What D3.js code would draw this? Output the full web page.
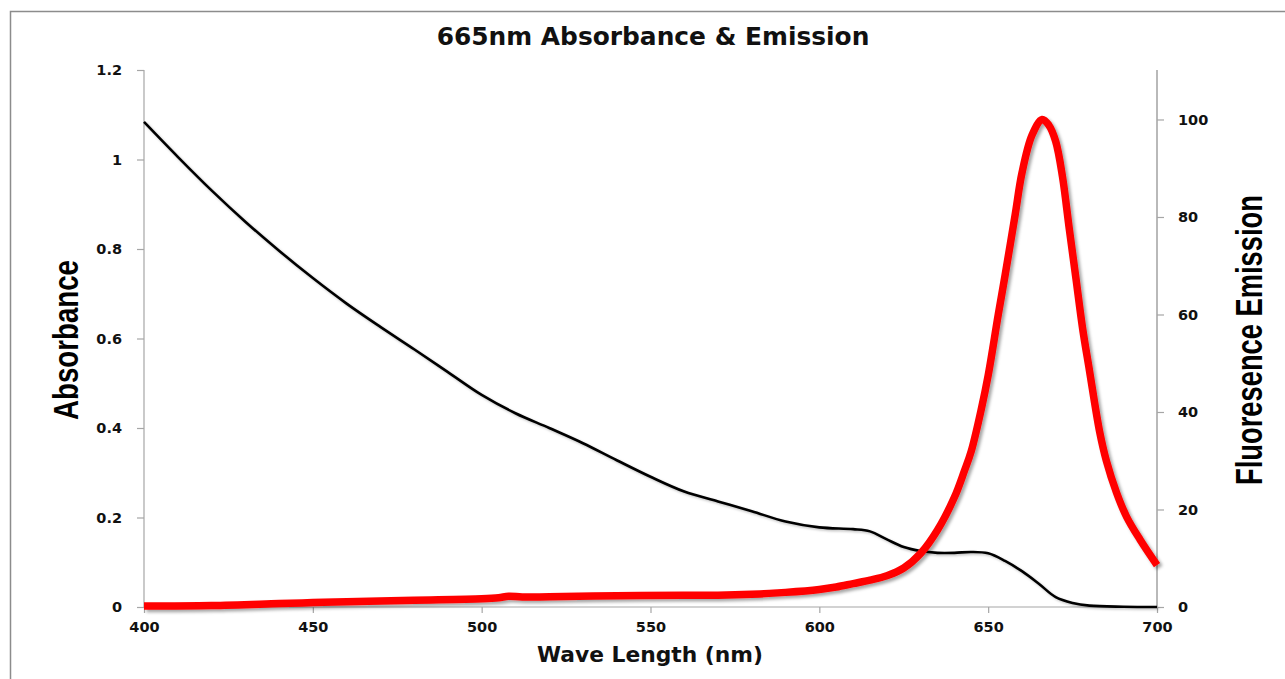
<!DOCTYPE html>
<html>
<head>
<meta charset="utf-8">
<script src="https://cdn.jsdelivr.net/npm/d3@7/dist/d3.min.js"></script>
<style>
  html, body { margin: 0; padding: 0; background: #fff; }
  svg { display: block; }
</style>
</head>
<body>
<svg id="chart" width="1285" height="679"></svg>
<script>
// ---- Data ----
const absWavelengths = [400,410,420,430,440,450,460,470,480,490,500,510,520,530,540,550,560,570,580,590,600,610,615,620,625,630,635,640,645,650,655,660,665,670,675,680,690,700];
const absValues      = [1.084,1.006,0.931,0.861,0.796,0.735,0.678,0.626,0.576,0.525,0.474,0.433,0.400,0.366,0.328,0.291,0.258,0.236,0.214,0.191,0.178,0.174,0.169,0.151,0.134,0.125,0.121,0.121,0.123,0.120,0.103,0.080,0.052,0.022,0.009,0.003,0.0005,0];

const emWavelengths = [400,420,440,450,460,480,500,505,508,512,520,540,560,570,580,590,600,605,610,615,620,625,630,635,640,643,645,648,650,653,655,658,660,663,666,668,670,672,674,676,678,680,683,685,688,691,695,700];
const emValues      = [0.2,0.3,0.7,0.9,1.1,1.4,1.7,1.9,2.2,2.05,2.1,2.3,2.4,2.4,2.6,3.0,3.6,4.1,4.8,5.5,6.4,8.0,11.0,15.8,22.5,28,32,40.7,47.5,60,68,80.5,89,96.8,100,98.8,95.5,88.3,77.7,67.4,57,48.5,36,30,23.5,18.5,13.8,8.6];

const xTicks = [400,450,500,550,600,650,700];
const yLeftTicks = [0,0.2,0.4,0.6,0.8,1,1.2];
const yRightTicks = [0,20,40,60,80,100];

const titleText = "665nm Absorbance & Emission";
const xLabel = "Wave Length (nm)";
const yLeftLabel = "Absorbance";
const yRightLabel = "Fluoresence Emission";

// ---- Layout ----
const svg = d3.select("#chart");
const plot = { left: 144, right: 1157, top: 70, bottom: 607 };

const x = d3.scaleLinear().domain([400,700]).range([plot.left, plot.right]);
const yL = d3.scaleLinear().domain([0,1.2]).range([plot.bottom, plot.top]);
const yR = d3.scaleLinear().domain([0,110.15]).range([plot.bottom, plot.top]);

// defs: drop shadow
const defs = svg.append("defs");
const f = defs.append("filter").attr("id","shadow").attr("x","-5%").attr("y","-5%").attr("width","110%").attr("height","110%");
f.append("feDropShadow").attr("dx",2.5).attr("dy",2.5).attr("stdDeviation",1.6)
  .attr("flood-color","#000").attr("flood-opacity",0.35);
const f2 = defs.append("filter").attr("id","shadow2").attr("x","-5%").attr("y","-5%").attr("width","110%").attr("height","110%");
f2.append("feDropShadow").attr("dx",1.5).attr("dy",1.5).attr("stdDeviation",1)
  .attr("flood-color","#000").attr("flood-opacity",0.25);

// outer border
svg.append("rect").attr("x",10.5).attr("y",11.5).attr("width",1300).attr("height",700)
  .attr("fill","none").attr("stroke","#8c8c8c").attr("stroke-width",1.5);

const tickFont = "'DejaVu Sans', Verdana, sans-serif";

// X axis
const gx = svg.append("g").attr("transform",`translate(0,${plot.bottom})`)
  .call(d3.axisBottom(x).tickValues(xTicks).tickSize(6).tickPadding(6).tickFormat(d3.format("d")));
// Left axis
const gyl = svg.append("g").attr("transform",`translate(${plot.left},0)`)
  .call(d3.axisLeft(yL).tickValues(yLeftTicks).tickSize(7).tickPadding(15).tickFormat(d => d3.format("")(d)));
// Right axis
const gyr = svg.append("g").attr("transform",`translate(${plot.right},0)`)
  .call(d3.axisRight(yR).tickValues(yRightTicks).tickSize(7).tickPadding(14).tickFormat(d3.format("d")));

[gx, gyl, gyr].forEach(g => {
  g.select(".domain").attr("stroke","#a6a6a6").attr("stroke-width",1.2);
  g.selectAll(".tick line").attr("stroke","#a6a6a6").attr("stroke-width",1.2);
  g.selectAll(".tick text").attr("font-family",tickFont).attr("font-weight","bold")
    .attr("font-size","14.5px").attr("fill","#111");
});
gyr.select(".domain").attr("stroke","#8a8a8a");
gx.select(".domain").attr("d",`M${plot.left},0H${plot.right}`);
gyl.select(".domain").attr("d",`M0,${plot.top}V${plot.bottom}`);
gyr.select(".domain").attr("d",`M0,${plot.top}V${plot.bottom}`);
gx.selectAll(".tick text").attr("dy","0.9em");

// Lines
const absData = absWavelengths.map((w,i) => ({x:w, y:absValues[i]}));
const emData = emWavelengths.map((w,i) => ({x:w, y:emValues[i]}));

svg.append("path").datum(absData)
  .attr("fill","none").attr("stroke","#000").attr("stroke-width",2.6)
  .attr("stroke-linejoin","round").attr("filter","url(#shadow2)")
  .attr("d", d3.line().x(d=>x(d.x)).y(d=>yL(d.y)).curve(d3.curveCatmullRom.alpha(0.5)));

svg.append("path").datum(emData)
  .attr("fill","none").attr("stroke","#ff0000").attr("stroke-width",7.5)
  .attr("stroke-linejoin","round").attr("stroke-linecap","butt").attr("filter","url(#shadow)")
  .attr("d", d3.line().x(d=>x(d.x)).y(d=>yR(d.y)).curve(d3.curveCatmullRom.alpha(0.5)));

// Text helpers
function fitText(sel, target) {
  const w = sel.node().getComputedTextLength();
  const fs = parseFloat(sel.attr("font-size"));
  sel.attr("font-size", (fs * target / w).toFixed(2) + "px");
}
function squeezeText(sel, cx, cy, target) {
  const w = sel.node().getComputedTextLength();
  const s = target / w;
  sel.attr("transform", `translate(${cx},${cy}) rotate(-90) scale(${s.toFixed(4)},1)`);
}

const t = svg.append("text").attr("x",653).attr("y",45).attr("text-anchor","middle")
  .attr("font-family",tickFont).attr("font-weight","bold").attr("font-size","20px")
  .attr("fill","#111").text(titleText);
fitText(t, 433);

const xl = svg.append("text").attr("x",650).attr("y",662).attr("text-anchor","middle")
  .attr("font-family",tickFont).attr("font-weight","bold").attr("font-size","18px")
  .attr("fill","#111").text(xLabel);
fitText(xl, 226);

const labFont = "'Liberation Sans', Arial, sans-serif";
const yl = svg.append("text").attr("text-anchor","middle")
  .attr("font-family",labFont).attr("font-weight","bold").attr("font-size","36px")
  .attr("fill","#000").text(yLeftLabel);
squeezeText(yl, 78, 340, 160);

const yr = svg.append("text").attr("text-anchor","middle")
  .attr("font-family",labFont).attr("font-weight","bold").attr("font-size","36px")
  .attr("fill","#000").text(yRightLabel);
squeezeText(yr, 1262, 340, 290);
</script>
</body>
</html>
